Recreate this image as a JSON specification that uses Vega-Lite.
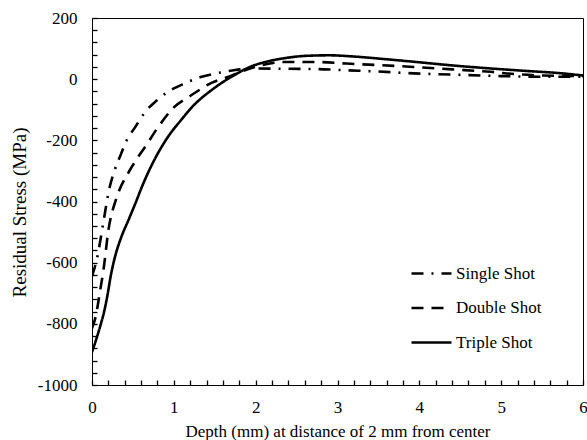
{
  "$schema": "https://vega.github.io/schema/vega-lite/v6.json",
  "width": 491,
  "height": 367,
  "autosize": {"type": "none"},
  "padding": {"left": 92, "top": 18, "right": 4, "bottom": 55},
  "background": "white",
  "config": {
    "view": {"stroke": "black", "strokeWidth": 1},
    "font": "Liberation Serif",
    "axis": {
      "domain": false,
      "ticks": true,
      "tickColor": "black",
      "tickWidth": 1.3,
      "labelColor": "black",
      "titleColor": "black",
      "labelFont": "Liberation Serif",
      "titleFont": "Liberation Serif",
      "labelFontSize": 17,
      "titleFontSize": 17,
      "titleFontWeight": "normal",
      "grid": false,
      "tickSize": 5,
      "offset": -5,
      "zindex": 1,
      "labelOverlap": false,
      "labelFlush": false
    },
    "legend": {
      "labelFont": "Liberation Serif",
      "labelFontSize": 17,
      "labelColor": "black"
    }
  },
  "data": {
    "values": [
      {"series": "Single Shot", "depth": 0, "stress": -645},
      {"series": "Single Shot", "depth": 0.07, "stress": -575},
      {"series": "Single Shot", "depth": 0.14, "stress": -466},
      {"series": "Single Shot", "depth": 0.21, "stress": -360},
      {"series": "Single Shot", "depth": 0.28, "stress": -295},
      {"series": "Single Shot", "depth": 0.35, "stress": -248},
      {"series": "Single Shot", "depth": 0.42, "stress": -202},
      {"series": "Single Shot", "depth": 0.53, "stress": -156},
      {"series": "Single Shot", "depth": 0.65, "stress": -107},
      {"series": "Single Shot", "depth": 0.79, "stress": -70},
      {"series": "Single Shot", "depth": 0.93, "stress": -41},
      {"series": "Single Shot", "depth": 1.13, "stress": -14},
      {"series": "Single Shot", "depth": 1.34, "stress": 8},
      {"series": "Single Shot", "depth": 1.52, "stress": 19},
      {"series": "Single Shot", "depth": 1.75, "stress": 30},
      {"series": "Single Shot", "depth": 1.93, "stress": 35},
      {"series": "Single Shot", "depth": 2.34, "stress": 34},
      {"series": "Single Shot", "depth": 2.75, "stress": 33},
      {"series": "Single Shot", "depth": 3.11, "stress": 29},
      {"series": "Single Shot", "depth": 3.5, "stress": 25},
      {"series": "Single Shot", "depth": 3.93, "stress": 19},
      {"series": "Single Shot", "depth": 4.4, "stress": 15},
      {"series": "Single Shot", "depth": 4.75, "stress": 12},
      {"series": "Single Shot", "depth": 5.0, "stress": 10},
      {"series": "Single Shot", "depth": 5.5, "stress": 8},
      {"series": "Single Shot", "depth": 6, "stress": 8},
      {"series": "Double Shot", "depth": 0, "stress": -815},
      {"series": "Double Shot", "depth": 0.05, "stress": -770},
      {"series": "Double Shot", "depth": 0.1, "stress": -690},
      {"series": "Double Shot", "depth": 0.14, "stress": -624},
      {"series": "Double Shot", "depth": 0.2, "stress": -495},
      {"series": "Double Shot", "depth": 0.3, "stress": -388},
      {"series": "Double Shot", "depth": 0.44, "stress": -308},
      {"series": "Double Shot", "depth": 0.55, "stress": -260},
      {"series": "Double Shot", "depth": 0.65, "stress": -221},
      {"series": "Double Shot", "depth": 0.81, "stress": -156},
      {"series": "Double Shot", "depth": 1.0, "stress": -92},
      {"series": "Double Shot", "depth": 1.2, "stress": -55},
      {"series": "Double Shot", "depth": 1.46, "stress": -12},
      {"series": "Double Shot", "depth": 1.69, "stress": 10},
      {"series": "Double Shot", "depth": 1.93, "stress": 35},
      {"series": "Double Shot", "depth": 2.1, "stress": 47},
      {"series": "Double Shot", "depth": 2.34, "stress": 56},
      {"series": "Double Shot", "depth": 2.75, "stress": 56},
      {"series": "Double Shot", "depth": 3.11, "stress": 51},
      {"series": "Double Shot", "depth": 3.5, "stress": 46},
      {"series": "Double Shot", "depth": 3.93, "stress": 40},
      {"series": "Double Shot", "depth": 4.4, "stress": 32},
      {"series": "Double Shot", "depth": 4.87, "stress": 24},
      {"series": "Double Shot", "depth": 5.2, "stress": 16},
      {"series": "Double Shot", "depth": 5.5, "stress": 12},
      {"series": "Double Shot", "depth": 6, "stress": 10},
      {"series": "Triple Shot", "depth": 0, "stress": -892},
      {"series": "Triple Shot", "depth": 0.05, "stress": -852},
      {"series": "Triple Shot", "depth": 0.1, "stress": -808},
      {"series": "Triple Shot", "depth": 0.15, "stress": -758},
      {"series": "Triple Shot", "depth": 0.19, "stress": -705},
      {"series": "Triple Shot", "depth": 0.23, "stress": -642},
      {"series": "Triple Shot", "depth": 0.28, "stress": -582},
      {"series": "Triple Shot", "depth": 0.36, "stress": -515},
      {"series": "Triple Shot", "depth": 0.45, "stress": -458},
      {"series": "Triple Shot", "depth": 0.53, "stress": -406},
      {"series": "Triple Shot", "depth": 0.61, "stress": -352},
      {"series": "Triple Shot", "depth": 0.69, "stress": -303},
      {"series": "Triple Shot", "depth": 0.8, "stress": -245},
      {"series": "Triple Shot", "depth": 0.93, "stress": -188},
      {"series": "Triple Shot", "depth": 1.1, "stress": -130},
      {"series": "Triple Shot", "depth": 1.22, "stress": -92},
      {"series": "Triple Shot", "depth": 1.5, "stress": -28},
      {"series": "Triple Shot", "depth": 1.75, "stress": 15},
      {"series": "Triple Shot", "depth": 1.93, "stress": 40},
      {"series": "Triple Shot", "depth": 2.1, "stress": 55},
      {"series": "Triple Shot", "depth": 2.34, "stress": 68},
      {"series": "Triple Shot", "depth": 2.6, "stress": 76},
      {"series": "Triple Shot", "depth": 2.9, "stress": 78},
      {"series": "Triple Shot", "depth": 3.2, "stress": 74},
      {"series": "Triple Shot", "depth": 3.6, "stress": 65},
      {"series": "Triple Shot", "depth": 3.93, "stress": 57},
      {"series": "Triple Shot", "depth": 4.4, "stress": 45},
      {"series": "Triple Shot", "depth": 4.87, "stress": 35},
      {"series": "Triple Shot", "depth": 5.3, "stress": 27},
      {"series": "Triple Shot", "depth": 5.7, "stress": 20},
      {"series": "Triple Shot", "depth": 6, "stress": 12}
    ]
  },
  "mark": {"type": "line", "interpolate": "monotone", "strokeWidth": 2.6, "color": "black", "clip": true},
  "encoding": {
    "x": {
      "field": "depth",
      "type": "quantitative",
      "scale": {"domain": [0, 6], "nice": false},
      "axis": {
        "title": "Depth (mm) at distance of 2 mm from center",
        "values": [0, 0.2, 0.4, 0.6, 0.8, 1, 1.2, 1.4, 1.6, 1.8, 2, 2.2, 2.4, 2.6, 2.8, 3, 3.2, 3.4, 3.6, 3.8, 4, 4.2, 4.4, 4.6, 4.8, 5, 5.2, 5.4, 5.6, 5.8, 6],
        "labelExpr": "datum.value % 1 == 0 ? '' + datum.value : ''",
        "labelPadding": 14,
        "titlePadding": 8
      }
    },
    "y": {
      "field": "stress",
      "type": "quantitative",
      "scale": {"domain": [-1000, 200], "nice": false},
      "axis": {
        "title": "Residual Stress (MPa)",
        "titleFontSize": 19,
        "titleY": 194,
        "values": [-1000, -960, -920, -880, -840, -800, -760, -720, -680, -640, -600, -560, -520, -480, -440, -400, -360, -320, -280, -240, -200, -160, -120, -80, -40, 0, 40, 80, 120, 160, 200],
        "labelExpr": "datum.value % 200 == 0 ? '' + datum.value : ''",
        "labelPadding": 15,
        "titlePadding": 8
      }
    },
    "strokeDash": {
      "field": "series",
      "type": "nominal",
      "scale": {
        "domain": ["Single Shot", "Double Shot", "Triple Shot"],
        "range": [[12, 8, 2, 8], [12, 8], [1, 0]]
      },
      "legend": {
        "title": null,
        "orient": "none",
        "legendX": 318,
        "legendY": 234,
        "symbolType": "stroke",
        "symbolSize": 1600,
        "symbolStrokeWidth": 2.6,
        "symbolStrokeColor": "black",
        "rowPadding": 4.5,
        "labelOffset": 3
      }
    }
  }
}
